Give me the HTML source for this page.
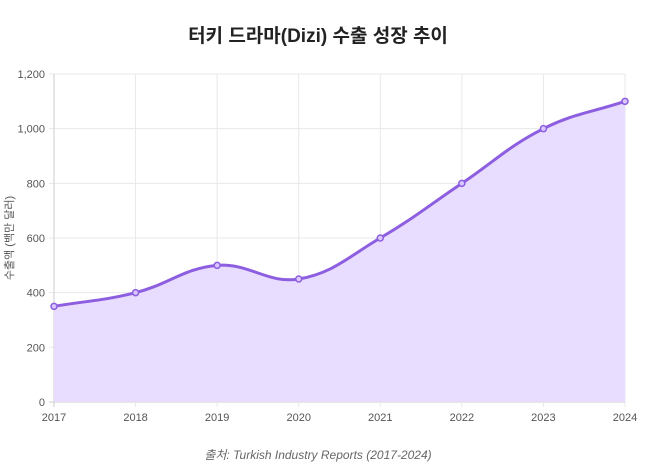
<!DOCTYPE html>
<html><head><meta charset="utf-8"><style>
body{margin:0;background:#fff;width:658px;height:468px;overflow:hidden;font-family:"Liberation Sans","Noto Sans CJK KR",sans-serif}
</style></head><body>
<svg width="658" height="468" xmlns="http://www.w3.org/2000/svg">
<text x="318" y="42" text-anchor="middle" font-size="19" font-weight="bold" fill="#222" font-family="Liberation Sans, Noto Sans CJK KR, sans-serif">터키 드라마(Dizi) 수출 성장 추이</text>
<g id="grid"></g>
<path id="area" fill="#e8dcff" stroke="none"/>
<path id="line" fill="none" stroke="#8d5fe0" stroke-width="3"/>
<g id="pts"></g>
<g id="labels" font-size="11" fill="#555" font-family="Liberation Sans, sans-serif"></g>
<text transform="translate(13,238) rotate(-90)" text-anchor="middle" font-size="11" fill="#555" font-family="Liberation Sans, Noto Sans CJK KR, sans-serif">수출액 (백만 달러)</text>
<text x="318" y="459" text-anchor="middle" font-size="12" font-style="italic" fill="#666" font-family="Liberation Sans, Noto Sans CJK KR, sans-serif">출처: Turkish Industry Reports (2017-2024)</text>
</svg>
<script>
const categories=["2017","2018","2019","2020","2021","2022","2023","2024"];
const values=[350,400,500,450,600,800,1000,1100];
const yTicks=[0,200,400,600,800,1000,1200];
const yTickLabels=["0","200","400","600","800","1,000","1,200"];
const L=54,R=625,T=74,B=402,YMAX=1200;
const xs=i=>L+(R-L)*i/(categories.length-1);
const ys=v=>B-(B-T)*v/YMAX;
const NS="http://www.w3.org/2000/svg";
const g=document.getElementById('grid'),lab=document.getElementById('labels'),pg=document.getElementById('pts');
function mk(tag,attrs,parent){const e=document.createElementNS(NS,tag);for(const k in attrs)e.setAttribute(k,attrs[k]);parent.appendChild(e);return e;}
yTicks.forEach((t,i)=>{
 const l=mk('line',{x1:L-5,x2:R,y1:ys(t),y2:ys(t),stroke:i==0?'#ccc':'#e8e8e8'},g);
 
 
 const tx=mk('text',{x:L-9,y:ys(t)+4,'text-anchor':'end'},lab);tx.textContent=yTickLabels[i];
 
 
});
categories.forEach((c,i)=>{
 const l=mk('line',{x1:xs(i),x2:xs(i),y1:T,y2:B+5,stroke:i==0?'#ccc':'#e8e8e8'},g);
 
 
 const tx=mk('text',{x:xs(i),y:B+19,'text-anchor':'middle'},lab);tx.textContent=c;
 
 
});
const P=values.map((v,i)=>({x:xs(i),y:ys(v)}));
const tension=0.4;
const cps=P.map((p,i)=>{
 const prev=P[i-1]||p,next=P[i+1]||p;
 const d01=Math.hypot(p.x-prev.x,p.y-prev.y),d12=Math.hypot(next.x-p.x,next.y-p.y);
 let fa=d01/(d01+d12)||0,fb=d12/(d01+d12)||0;fa*=tension;fb*=tension;
 return {px:p.x-fa*(next.x-prev.x),py:p.y-fa*(next.y-prev.y),nx:p.x+fb*(next.x-prev.x),ny:p.y+fb*(next.y-prev.y)};
});
let d=`M${P[0].x},${P[0].y}`;
for(let i=1;i<P.length;i++)d+=` C${cps[i-1].nx},${cps[i-1].ny} ${cps[i].px},${cps[i].py} ${P[i].x},${P[i].y}`;
document.getElementById('line').setAttribute('d',d);
document.getElementById('area').setAttribute('d',d+` L${P[P.length-1].x},${B} L${P[0].x},${B} Z`);
P.forEach(p=>{
 const c=mk('circle',{cx:p.x,cy:p.y,r:3,fill:'#d9c8ff',stroke:'#8d5fe0','stroke-width':1.5},pg);
 
 
});
</script>
</body></html>
